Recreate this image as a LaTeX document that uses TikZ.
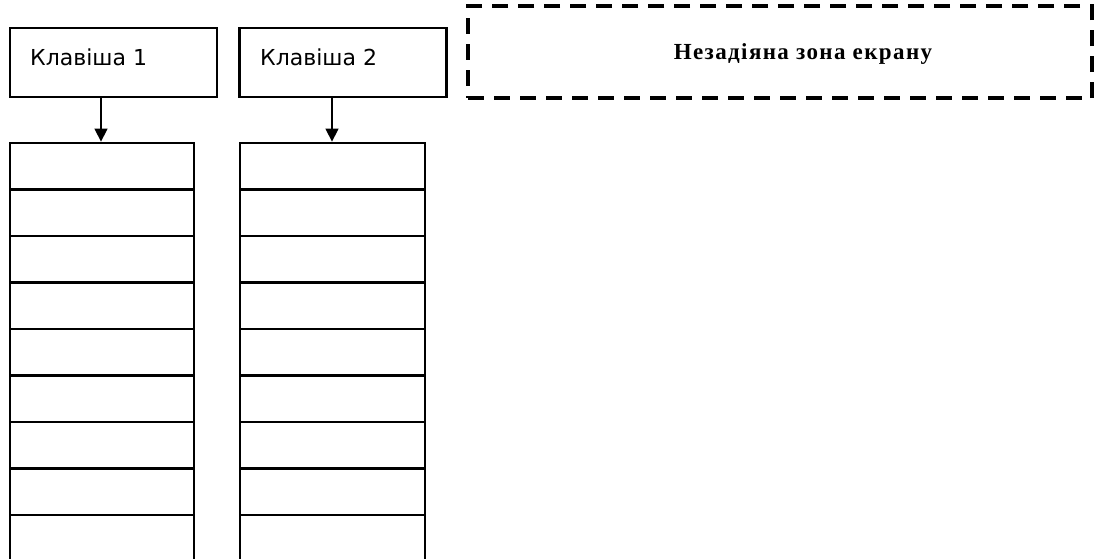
\documentclass[tikz,border=0pt]{standalone}
\usepackage{fontspec}
\setmainfont{Liberation Serif}
\newfontfamily\keyfont{DejaVu Sans}
\newfontfamily\zonefont[LetterSpace=6]{Liberation Serif}
\usetikzlibrary{arrows.meta}
\begin{document}
\begin{tikzpicture}[x=1pt,y=-1pt,
  frame/.style={draw=black,line width=2.8pt},
  keybox/.style={frame,rectangle,inner sep=0pt,minimum width=207pt,minimum height=69pt},
  cell/.style={frame,rectangle,inner sep=0pt,minimum height=46.5pt},
  keylabel/.style={anchor=base west,inner sep=0pt,font=\keyfont\fontsize{22}{26}\selectfont},
  zone/.style={draw=black,line width=3.2pt,dash pattern=on 16pt off 10pt,rectangle,inner sep=0pt,
    minimum width=624pt,minimum height=92pt},
  zonelabel/.style={inner sep=0pt,font=\zonefont\bfseries\fontsize{23}{26}\selectfont},
  feed/.style={line width=1.4pt,-{Triangle[width=13pt,length=13pt]}}]
  \useasboundingbox (0,0) rectangle (1095,558);
  \fill[white] (0,0) rectangle (1095,558);

  % key headers
  \node[keybox] (k1) at (113.5,62.5) {};
  \node[keybox] (k2) at (343,62.5) {};
  \node[keylabel] (l1) at (30,65) {Клавіша 1};
  \node[keylabel] (l2) at (260,65) {Клавіша 2};

  % inactive screen area
  \node[zone] (z) at (780,52) {};
  \node[zonelabel] (zl) at (803,54) {Незадіяна зона екрану};

  % buffer cells under each key
  \foreach \i in {0,...,8}{
    \node[cell,minimum width=184pt] (a\i) at (102,166.25+46.5*\i) {};
    \node[cell,minimum width=185pt] (b\i) at (332.5,166.25+46.5*\i) {};
  }

  % key -> buffer
  \draw[feed] (k1.south -| 101,0) -- (a0.north -| 101,0);
  \draw[feed] (k2.south -| 332,0) -- (b0.north -| 332,0);
\end{tikzpicture}
\end{document}
